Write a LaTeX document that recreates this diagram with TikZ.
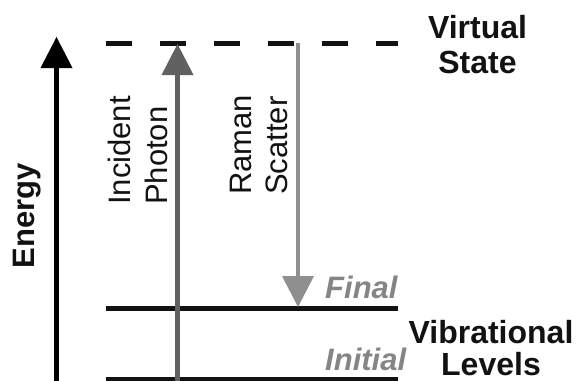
\documentclass[tikz,border=0pt]{standalone}
\usepackage{fontspec}
\setmainfont{Liberation Sans}
\usetikzlibrary{arrows.meta}
\definecolor{lineBlack}{gray}{0.07}
\definecolor{photonGray}{gray}{0.38}
\definecolor{scatterGray}{gray}{0.56}
\definecolor{labelGray}{gray}{0.52}

\begin{document}
\begin{tikzpicture}[x=1pt, y=-1pt,
		levelLine/.style={line width=5pt, draw=lineBlack},
		bigText/.style={inner sep=0pt, text=lineBlack},
		headTip/.style={-{Triangle[length=31pt, width=32pt, line width=0pt]}}]
		\useasboundingbox (0,0) rectangle (577,380);

		% level end points
		\coordinate (virtLeft) at (105.5,43);
		\coordinate (virtRight) at (398,43);
		\coordinate (finalLeft) at (105.5,308);
		\coordinate (finalRight) at (398,308);
		\coordinate (initLeft) at (105.5,379);
		\coordinate (initRight) at (398,379);

		% arrow end points
		\coordinate (energyBot) at (56.5,386);
		\coordinate (energyTop) at (56.5,37);
		\coordinate (photonBot) at (177.5,386);
		\coordinate (photonTop) at (177.5,44);
		\coordinate (scatterTop) at (298,43);
		\coordinate (scatterBot) at (298,307);

		% labels
		\node[bigText, font={\fontsize{32}{35}\selectfont\bfseries}, align=center, anchor=north](virtLabel) at (477.5,15.5){Virtual\\State};
		\node[bigText, font={\fontsize{32}{32}\selectfont\bfseries}, align=center, anchor=north](vibLabel) at (491,320){Vibrational\\Levels};
		\node[bigText, font={\fontsize{31}{37}\selectfont\bfseries}, rotate=90, anchor=north](energyLabel) at (13,215.5){Energy};
		\node[bigText, font={\fontsize{31}{37}\selectfont}, rotate=90, align=left, anchor=north west](photonLabel) at (108,205){Incident\\Photon};
		\node[bigText, font={\fontsize{31}{36}\selectfont}, rotate=90, align=left, anchor=north west](scatterLabel) at (230,195){Raman\\Scatter};
		\node[bigText, text=labelGray, font={\fontsize{31}{37}\selectfont\bfseries\itshape}, anchor=base west](finalLabel) at (325,298){Final};
		\node[bigText, text=labelGray, font={\fontsize{31}{37}\selectfont\bfseries\itshape}, anchor=base west](initLabel) at (325,370){Initial};

		% draw levels
		\draw[levelLine, dash pattern=on 26.5pt off 27.5pt] (virtLeft) -- (virtRight);
		\draw[levelLine] (finalLeft) -- (finalRight);
		\draw[levelLine] (initLeft) -- (initRight);

		% draw energy axis
		\draw[line width=5.5pt, draw=black, fill=black, headTip] (energyBot) -- (energyTop);

		% draw photon and scatter arrows
		\draw[line width=4.5pt, draw=photonGray, fill=photonGray, headTip] (photonBot) -- (photonTop);
		\draw[line width=4.5pt, draw=scatterGray, fill=scatterGray, headTip] (scatterTop) -- (scatterBot);
	\end{tikzpicture}
\end{document}
